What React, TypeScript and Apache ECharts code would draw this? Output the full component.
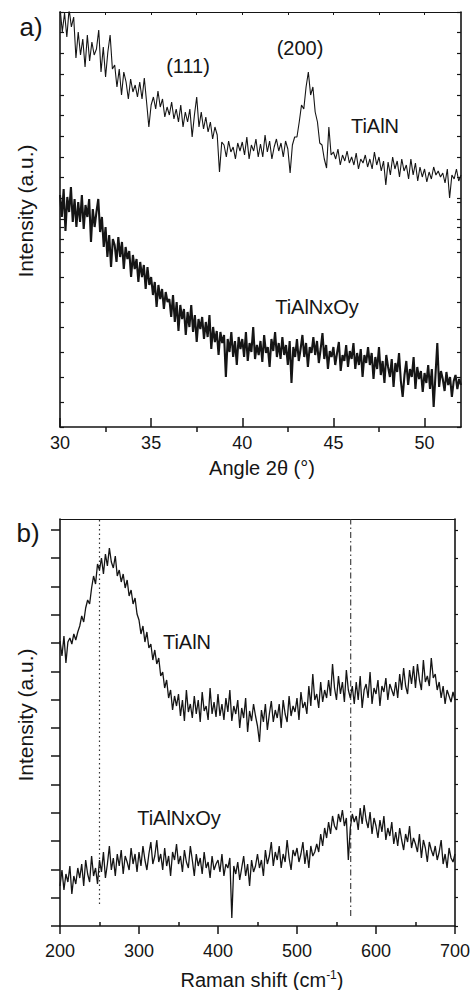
import React, { useEffect, useRef } from "react";
import * as echarts from "echarts";

// ---------- DATA ----------
// (a) XRD patterns, intensity in arbitrary units
const XRD_START = 30;
const XRD_STEP_TIALN = 0.125;
const XRD_STEP_OXY = 0.1;
const xrdTiAlN = [
  420, 395, 414, 390, 418, 400, 410, 369,
  395, 372, 388, 360, 392, 366, 385, 372,
  378, 397, 355, 380, 350, 375, 392, 358,
  362, 340, 358, 332, 355, 345, 328, 348,
  335, 342, 330, 345, 328, 349, 325, 300,
  322, 330, 318, 336, 320, 328, 310, 320,
  312, 325, 308, 318, 305, 322, 300, 315,
  305, 318, 290, 312, 330, 300, 315, 298,
  310, 295, 305, 288, 300, 292, 255, 285,
  282, 270, 286, 275, 280, 268, 284, 276,
  285, 272, 290, 268, 282, 276, 288, 270,
  283, 270, 292, 275, 286, 268, 280, 288,
  276, 284, 270, 286, 278, 254, 282, 290,
  290, 305, 322, 318, 340, 355, 332, 340,
  315, 305, 284, 282, 268, 259, 300, 272,
  275, 268, 278, 262, 272, 266, 276, 264,
  270, 262, 274, 258, 268, 264, 272, 260,
  268, 258, 275, 262, 270, 256, 266, 242,
  265, 252, 270, 258, 266, 250, 268, 256,
  262, 248, 268, 252, 264, 246, 260, 250,
  258, 245, 255, 248, 260, 252, 256, 250,
  254, 244, 258, 229, 252, 248, 258, 246, 252,
];
const xrdTiAlNxOy = [
  232, 210, 238, 196, 230, 215, 240, 205, 228, 200,
  225, 205, 232, 198, 222, 210, 228, 185, 218, 200,
  215, 228, 195, 210, 180, 200, 170, 192, 160, 188,
  182, 165, 190, 170, 185, 158, 180, 168, 176, 150,
  172, 158, 168, 145, 165, 150, 162, 138, 160, 142,
  150, 132, 145, 120, 142, 128, 138, 118, 135, 125,
  128, 110, 132, 105, 125, 96, 122, 108, 118, 92,
  115, 100, 122, 95, 112, 85, 108, 98, 110, 88,
  105, 90, 112, 78, 100, 85, 96, 72, 95, 84,
  92, 50, 88, 75, 95, 70, 86, 62, 90, 78,
  88, 70, 95, 66, 84, 75, 100, 68, 82, 72,
  86, 65, 92, 74, 80, 60, 88, 76, 95, 70,
  84, 68, 90, 72, 82, 62, 86, 44, 80, 70,
  88, 66, 78, 92, 70, 84, 60, 80, 74, 90,
  72, 86, 64, 78, 94, 68, 82, 58, 76, 70,
  80, 62, 74, 85, 56, 72, 66, 82, 60, 76,
  68, 84, 58, 74, 62, 78, 50, 72, 64, 80,
  62, 74, 48, 70, 58, 80, 52, 66, 44, 72,
  60, 50, 68, 40, 64, 55, 74, 46, 30, 52,
  66, 42, 58, 50, 70, 38, 60, 48, 56, 35,
  54, 44, 62, 38, 58, 20, 52, 84, 40, 56,
  48, 36, 55, 42, 50, 30, 46, 52, 38, 48,
  42,
];
const xrdTickLabels = [30, 35, 40, 45, 50];
const xrdMinorTicks = [32.5, 37.5, 42.5, 47.5];
const xrdTopTicks = [32.5, 35, 37.5, 40, 42.5, 45, 47.5, 50];
const xrdIntensityTicks = [
  0, 25, 50, 75, 100, 125, 150, 175, 200, 225,
  187.3, 208, 228.7, 249.4, 270.1, 290.8, 311.5, 332.2, 352.9, 373.6, 394.3, 415,
];

// (b) Raman spectra, intensity in arbitrary units
const RAMAN_START = 200;
const RAMAN_STEP = 2.5;
const ramanTiAlN = [
  285, 270, 290, 263, 284, 288, 282, 292, 286, 294,
  300, 310, 304, 318, 326, 322, 338, 350, 342, 362,
  356, 368, 352, 372, 360, 378, 364, 358, 370, 350,
  356, 344, 352, 338, 346, 330, 336, 322, 328, 312,
  306, 292, 300, 284, 294, 278, 282, 266, 276, 262,
  268, 250, 254, 238, 246, 228, 236, 216, 230, 220,
  232, 210, 226, 205, 236, 214, 222, 208, 230, 212,
  226, 204, 234, 215, 220, 206, 238, 212, 224, 209,
  232, 210, 222, 206, 228, 214, 236, 205, 220, 212,
  226, 198, 218, 208, 228, 194, 215, 205, 222, 210,
  200, 184, 216, 204, 222, 196, 212, 225, 204, 216,
  208, 222, 198, 226, 212, 204, 230, 210, 220, 214,
  228, 206, 234, 218, 224, 212, 240, 220, 252, 226,
  232, 218, 244, 224, 236, 228, 246, 230, 262, 238,
  226, 250, 232, 244, 224, 256, 236, 228, 240, 222,
  244, 226, 250, 218, 236, 242, 228, 254, 222, 238,
  232, 246, 220, 240, 234, 248, 226, 242, 236, 230,
  244, 228, 252, 236, 258, 240, 232, 256, 242, 260,
  238, 262, 246, 236, 266, 244, 250, 240, 268, 248,
  252, 236, 244, 228, 240, 222, 236, 230, 224, 234,
  226,
];
const ramanTiAlNxOy = [
  40, 56, 36, 52, 44, 60, 32, 50, 42, 58,
  48, 62, 40, 66, 52, 44, 70, 50, 58, 42,
  66, 54, 74, 48, 62, 80, 56, 68, 50, 72,
  60, 76, 52, 70, 64, 56, 78, 62, 72, 54,
  74, 60, 80, 66, 56, 72, 84, 62, 70, 86,
  64, 72, 56, 78, 60, 70, 50, 74, 66, 82,
  62, 70, 54, 76, 64, 58, 80, 66, 50, 72,
  60, 68, 52, 74, 58, 64, 48, 70, 56, 62,
  66, 54, 72, 50, 62, 58, 68, 8, 60, 52,
  64, 46, 58, 70, 50, 62, 40, 66, 54, 60,
  72, 58, 66, 50, 76, 62, 70, 84, 60, 74,
  66, 80, 58, 72, 64, 86, 68, 56, 76, 70,
  78, 64, 72, 84, 62, 76, 58, 80, 70, 74,
  82, 74, 92, 80, 98, 88, 104, 92, 110, 100,
  96, 112, 104, 116, 100, 108, 66, 98, 112, 104,
  110, 96, 118, 102, 121, 106, 98, 114, 92, 108,
  100, 88, 106, 94, 110, 86, 98, 90, 104, 82,
  94, 80, 98, 86, 76, 92, 84, 100, 78, 88,
  82, 74, 92, 68, 86, 78, 64, 84, 76, 70,
  80, 66, 74, 86, 62, 72, 58, 78, 68, 64,
  72,
];
const ramanMinorTicks = [250, 350, 450, 550, 650];
const ramanIntensityTicks = [
  0, 28.3, 56.6, 84.9, 113.2, 141.5, 169.8, 198.1, 226.4, 254.7, 283, 311.3, 339.6, 367.9, 396.2,
];
const RAMAN_MAX = 407;
const ramanRefShifts = [250, 568];
const ramanRefBottoms = [22, 10];

// ---------- CHART ----------
const FONT = '"Liberation Sans", Arial, Helvetica, sans-serif';
const INK = "#151515";

export default function App() {
  const ref = useRef<HTMLDivElement>(null);
  useEffect(() => {
    if (!ref.current) return;
    const chart = echarts.init(ref.current, undefined, { renderer: "svg" });

    const xrdA = xrdTiAlN.map((v, i) => [XRD_START + i * XRD_STEP_TIALN, v]);
    const xrdB = xrdTiAlNxOy.map((v, i) => [XRD_START + i * XRD_STEP_OXY, v]);
    const ramA = ramanTiAlN.map((v, i) => [RAMAN_START + i * RAMAN_STEP, v]);
    const ramB = ramanTiAlNxOy.map((v, i) => [RAMAN_START + i * RAMAN_STEP, v]);

    const line = (w: number) => ({ color: INK, width: w });
    const noSplit = { show: false };

    const text = (t: string, x: number, y: number, size: number, rot = 0, rich?: any) => ({
      type: "text",
      x,
      y,
      rotation: rot,
      silent: true,
      style: {
        text: t,
        fill: INK,
        fontSize: size,
        fontFamily: FONT,
        align: "center",
        verticalAlign: "middle",
        rich,
      },
    });

    chart.setOption({
      animation: false,
      textStyle: { fontFamily: FONT, color: INK },
      grid: [
        { left: 60, top: 12, width: 401, height: 415 },
        { left: 60, top: 519, width: 396, height: 407 },
      ],
      xAxis: [
        {
          gridIndex: 0, type: "value", min: 30, max: 52, position: "bottom",
          axisLine: { show: true, lineStyle: line(1.6) },
          axisTick: { show: true, inside: true, length: 9, customValues: xrdTickLabels, lineStyle: line(1.5) },
          axisLabel: { show: true, customValues: xrdTickLabels, fontSize: 18, color: INK, margin: 7, fontFamily: FONT },
          splitLine: noSplit,
        },
        {
          gridIndex: 0, type: "value", min: 30, max: 52, position: "bottom",
          axisLine: { show: false },
          axisTick: { show: true, inside: false, length: 5, customValues: xrdMinorTicks, lineStyle: line(1.5) },
          axisLabel: { show: false },
          splitLine: noSplit,
        },
        {
          gridIndex: 0, type: "value", min: 30, max: 52, position: "top",
          axisLine: { show: true, onZero: false, lineStyle: line(1.2) },
          axisTick: { show: true, inside: true, length: 3, customValues: xrdTopTicks, lineStyle: line(1) },
          axisLabel: { show: false },
          splitLine: noSplit,
        },
        {
          gridIndex: 1, type: "value", min: 200, max: 700, interval: 100, position: "bottom",
          axisLine: { show: true, lineStyle: line(1.6) },
          axisTick: { show: true, inside: false, length: 8, lineStyle: line(1.5) },
          axisLabel: { show: true, fontSize: 18, color: INK, margin: 16, fontFamily: FONT },
          splitLine: noSplit,
        },
        {
          gridIndex: 1, type: "value", min: 200, max: 700, position: "bottom",
          axisLine: { show: false },
          axisTick: { show: true, inside: true, length: 4, customValues: ramanMinorTicks, lineStyle: line(1.5) },
          axisLabel: { show: false },
          splitLine: noSplit,
        },
        {
          gridIndex: 1, type: "value", min: 200, max: 700, position: "top",
          axisLine: { show: true, onZero: false, lineStyle: line(1.2) },
          axisTick: { show: false },
          axisLabel: { show: false },
          splitLine: noSplit,
        },
      ],
      yAxis: [
        {
          gridIndex: 0, type: "value", min: 0, max: 415, position: "left",
          axisLine: { show: true, onZero: false, lineStyle: line(1.6) },
          axisTick: { show: true, inside: true, length: 4, customValues: xrdIntensityTicks, lineStyle: line(1.2) },
          axisLabel: { show: false },
          splitLine: noSplit,
        },
        {
          gridIndex: 0, type: "value", min: 0, max: 415, position: "right",
          axisLine: { show: true, onZero: false, lineStyle: line(1.6) },
          axisTick: { show: true, inside: true, length: 4, customValues: xrdIntensityTicks, lineStyle: line(1.2) },
          axisLabel: { show: false },
          splitLine: noSplit,
        },
        {
          gridIndex: 1, type: "value", min: 0, max: RAMAN_MAX, position: "left",
          axisLine: { show: true, onZero: false, lineStyle: line(1.6) },
          axisTick: { show: true, inside: false, length: 9, customValues: ramanIntensityTicks, lineStyle: line(1.5) },
          axisLabel: { show: false },
          splitLine: noSplit,
        },
        {
          gridIndex: 1, type: "value", min: 0, max: RAMAN_MAX, position: "right",
          axisLine: { show: true, onZero: false, lineStyle: line(1.6) },
          axisTick: { show: true, inside: false, length: 3, customValues: ramanIntensityTicks, lineStyle: line(1.2) },
          axisLabel: { show: false },
          splitLine: noSplit,
        },
      ],
      series: [
        {
          name: "XRD TiAlN", type: "line", xAxisIndex: 0, yAxisIndex: 0, data: xrdA,
          showSymbol: false, symbol: "none", clip: true, lineStyle: line(1.1), silent: true,
        },
        {
          name: "XRD TiAlNxOy", type: "line", xAxisIndex: 0, yAxisIndex: 0, data: xrdB,
          showSymbol: false, symbol: "none", clip: true, lineStyle: line(2.1), silent: true,
        },
        {
          name: "ref 250", type: "line", xAxisIndex: 3, yAxisIndex: 2,
          data: [[ramanRefShifts[0], ramanRefBottoms[0]], [ramanRefShifts[0], RAMAN_MAX]],
          showSymbol: false, symbol: "none", silent: true,
          lineStyle: { color: "#333", width: 1.2, type: [1.5, 3] },
        },
        {
          name: "ref 568", type: "line", xAxisIndex: 3, yAxisIndex: 2,
          data: [[ramanRefShifts[1], ramanRefBottoms[1]], [ramanRefShifts[1], RAMAN_MAX]],
          showSymbol: false, symbol: "none", silent: true,
          lineStyle: { color: "#333", width: 1.1, type: [6, 3, 1.5, 3] },
        },
        {
          name: "Raman TiAlN", type: "line", xAxisIndex: 3, yAxisIndex: 2, data: ramA,
          showSymbol: false, symbol: "none", clip: true, lineStyle: line(1.3), silent: true,
        },
        {
          name: "Raman TiAlNxOy", type: "line", xAxisIndex: 3, yAxisIndex: 2, data: ramB,
          showSymbol: false, symbol: "none", clip: true, lineStyle: line(1.3), silent: true,
        },
      ],
      graphic: [
        text("a)", 31, 27, 26),
        text("b)", 28, 533, 26),
        text("(111)", 188, 66, 20),
        text("(200)", 300, 48, 20),
        text("TiAlN", 375, 126, 20),
        text("TiAlNxOy", 317, 307, 20),
        text("TiAlN", 187, 642, 20),
        text("TiAlNxOy", 179, 818, 20),
        text("Angle 2θ (°)", 262, 468, 20),
        text("Intensity (a.u.)", 25, 211, 21, Math.PI / 2),
        text("Intensity (a.u.)", 25, 715, 21, Math.PI / 2),
        text("Raman shift (cm{sup|-1})", 262, 980, 20, 0, {
          sup: { fontSize: 12, fontFamily: FONT, fill: INK, verticalAlign: "top", padding: [0, 0, 10, 0] },
        }),
      ],
    });
    return () => chart.dispose();
  }, []);

  return (
    <div
      ref={ref}
      style={{ position: "absolute", left: 0, top: 0, width: 473, height: 990, background: "#fff" }}
    />
  );
}
